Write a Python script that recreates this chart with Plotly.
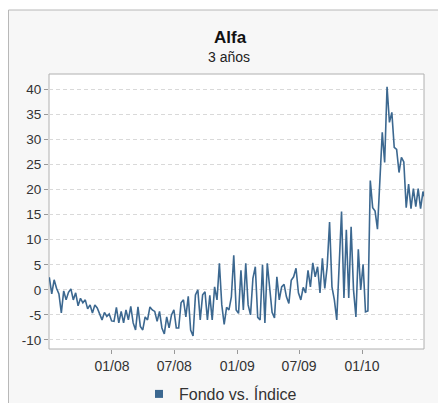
import pandas as pd
import plotly.graph_objects as go

# ---- data ----
start_date = "2007-07-02"
values = [
    2.5, -0.8, 2.0, 0.3, -0.8, -4.6, -0.2, -2.0, -0.5, 0.2,
    -2.0, -0.6, -3.2, -1.7, -2.6, -2.0, -3.8, -3.0, -4.6, -3.0,
    -3.6, -5.0, -6.0, -4.5, -5.3, -4.8, -6.2, -6.3, -3.5, -6.6,
    -4.3, -6.6, -4.0, -6.0, -3.3, -6.6, -8.0, -3.4, -7.3, -8.0,
    -5.4, -6.0, -3.4, -4.0, -4.3, -6.3, -4.3, -7.6, -8.8, -5.4,
    -7.6, -5.0, -4.0, -7.6, -7.6, -2.6, -2.0, -5.4, -1.3, -8.0,
    -9.2, -1.0, 0.0, -6.0, -1.0, -0.4, -6.0, -1.1, -6.0, 0.6,
    -2.0, 5.3, -3.0, -6.9, -3.5, -4.0, -1.4, 6.9, -4.0, -4.7,
    3.9, -4.0, 5.3, -3.0, -5.0, 2.3, 4.6, -5.5, -6.0, 5.0,
    -6.6, 5.3, -0.5, -4.5, -5.6, 2.6, -2.0, 0.6, 1.1, -1.4,
    -2.7, 1.9, 2.6, 4.3, -0.6, -2.0, 0.5, -0.6, 3.9, 0.6,
    5.4, 2.6, 4.6, -0.6, 6.3, 0.3, 4.6, 13.5, 0.6, -2.0,
    -6.0, 3.9, 15.6, -1.6, 12.0, -1.6, 12.6, 0.0, -5.4, 8.1,
    0.0, 5.1, -4.4, -4.2, 21.8, 16.4, 15.7, 12.1, 21.8, 31.4,
    25.4, 40.5, 33.4, 35.4, 28.4, 28.0, 23.4, 26.4, 25.5, 16.4,
    21.1, 16.2, 20.2, 16.6, 20.2, 16.2, 19.6, 18.0,
]
dates = pd.date_range(start_date, periods=len(values), freq="7D")

series_name = "Fondo vs. Índice"
title_text = "Alfa"
subtitle_text = "3 años"

x_tick_vals = ["2008-01-01", "2008-07-01", "2009-01-01", "2009-07-01", "2010-01-01"]
x_tick_text = ["01/08", "07/08", "01/09", "07/09", "01/10"]
y_tick_vals = [-10, -5, 0, 5, 10, 15, 20, 25, 30, 35, 40]
y_tick_text = ["-10", "-5", "0", "5", "10", "15", "20", "25", "30", "35", "40"]

# ---- figure ----
# the page body has an 8px margin, so layout is expressed in page pixels
OFF = 8
W, H = 446 - OFF, 403 - OFF
L, T = 49 - OFF, 74 - OFF
pw, ph = 375, 275
R, B = W - L - pw, H - T - ph

def fx(page_x):
    return (page_x - OFF - L) / pw

def fy(page_y):
    return (T + ph - (page_y - OFF)) / ph

line_color = "#3c6890"
font_family = "Liberation Sans, Arial, sans-serif"

fig = go.Figure()
fig.add_trace(go.Scatter(
    x=dates, y=values, mode="lines",
    line=dict(color=line_color, width=1.6),
    showlegend=False, hoverinfo="skip",
))
fig.add_trace(go.Scatter(
    x=[None], y=[None], mode="markers", name=series_name,
    marker=dict(symbol="square", size=8, color=line_color),
    showlegend=True,
))

fig.update_layout(
    width=W, height=H,
    margin=dict(l=L, r=R, t=T, b=B, autoexpand=False),
    paper_bgcolor="white",
    plot_bgcolor="white",
    font=dict(family=font_family, size=13, color="#333333"),
    legend=dict(
        orientation="h", x=fx(139), xanchor="left",
        y=fy(394), yanchor="middle",
        font=dict(size=16, color="#333333"),
        bgcolor="rgba(0,0,0,0)", itemwidth=30,
    ),
    shapes=[
        dict(type="rect", xref="paper", yref="paper",
             x0=fx(8.5), x1=fx(470), y0=fy(430), y1=fy(10),
             fillcolor="#f7f7f7", line=dict(color="#b8b8b8", width=1),
             layer="below"),
        dict(type="rect", xref="paper", yref="paper",
             x0=0, x1=1, y0=0, y1=1,
             fillcolor="white", line=dict(color="#b0b0b0", width=1),
             layer="below"),
    ],
    annotations=[
        dict(text="<b>" + title_text + "</b>", xref="paper", yref="paper",
             x=fx(230), y=fy(37), xanchor="center", yanchor="middle",
             showarrow=False, font=dict(size=17, color="#111111")),
        dict(text=subtitle_text, xref="paper", yref="paper",
             x=fx(229), y=fy(57), xanchor="center", yanchor="middle",
             showarrow=False, font=dict(size=14, color="#222222")),
    ],
)

fig.update_xaxes(
    type="date",
    range=["2007-07-01", "2010-07-01"],
    tickvals=x_tick_vals, ticktext=x_tick_text,
    showgrid=False, zeroline=False,
    showline=False,
    ticks="outside", ticklen=4, tickcolor="#999999",
    tickfont=dict(size=14, color="#333333"),
)
fig.update_yaxes(
    range=[-11.8, 43.05],
    tickvals=y_tick_vals, ticktext=y_tick_text,
    showgrid=True, gridcolor="#d9d9d9", griddash="4px,3px", gridwidth=1,
    zeroline=False, showline=False,
    ticks="outside", ticklen=4, tickcolor="#999999",
    tickfont=dict(size=13.5, color="#333333"),
)

fig.write_html("out.html")
